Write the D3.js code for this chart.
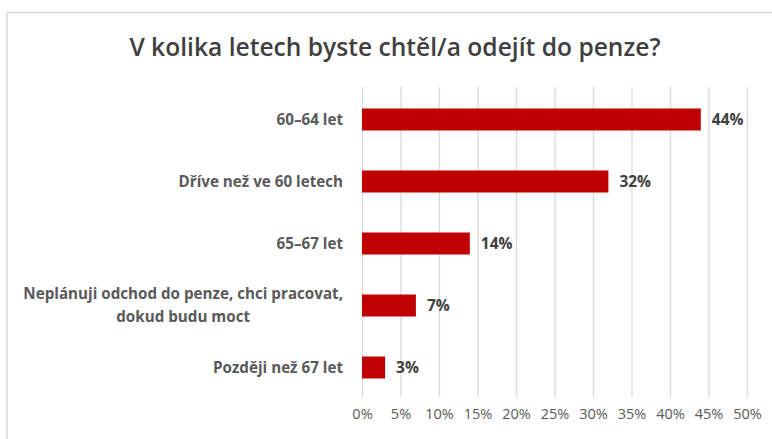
<!DOCTYPE html>
<html>
<head>
<meta charset="utf-8">
<script src="https://cdn.jsdelivr.net/npm/d3@7/dist/d3.min.js"></script>
<style>
  html, body { margin: 0; padding: 0; background: #fff; }
  svg { display: block; }
</style>
</head>
<body>
<div id="chart"></div>
<script>
const titleText = "V kolika letech byste chtěl/a odejít do penze?";
const categories = [
  ["60–64 let"],
  ["Dříve než ve 60 letech"],
  ["65–67 let"],
  ["Neplánuji odchod do penze, chci pracovat,", "dokud budu moct"],
  ["Později než 67 let"]
];
const values = [44, 32, 14, 7, 3];
const tickValues = [0, 5, 10, 15, 20, 25, 30, 35, 40, 45, 50];

const W = 772, H = 439;
const margin = { left: 362, right: 25, top: 88.5, bottom: 40.5 };
const font = "'Open Sans', sans-serif";

const svg = d3.select("#chart").append("svg")
  .attr("width", W).attr("height", H);

svg.append("rect").attr("width", W).attr("height", H).attr("fill", "#fff");

// outer frame (open at right and bottom)
svg.append("path")
  .attr("d", `M7,${H} L7,12.5 L${W},12.5`)
  .attr("fill", "none")
  .attr("stroke", "#d9d9d9")
  .attr("stroke-width", 1.5);

svg.append("text")
  .attr("x", 395).attr("y", 56)
  .attr("text-anchor", "middle")
  .attr("font-family", font)
  .attr("font-size", 24.6)
  .attr("font-weight", 600)
  .attr("fill", "#404040")
  .text(titleText);

const x = d3.scaleLinear().domain([0, 50]).range([margin.left, margin.left + 385]);
const idx = d3.range(categories.length);
const y = d3.scaleBand().domain(idx).range([margin.top, H - margin.bottom]).paddingInner(0.645).paddingOuter(0.3225);

// gridlines
const xAxis = d3.axisBottom(x).tickValues(tickValues).tickSize(-(H - margin.bottom - margin.top)).tickFormat(d => d + "%").tickPadding(12);
const gx = svg.append("g").attr("transform", `translate(0,${H - margin.bottom - 1.5})`).call(xAxis);
gx.select(".domain").remove();
gx.selectAll(".tick line").attr("stroke", "#d9d9d9").attr("stroke-width", 1.3);
gx.selectAll(".tick text").attr("font-family", font).attr("font-size", 14.5).attr("fill", "#595959");

// bars
svg.append("g").selectAll("rect").data(values).join("rect")
  .attr("x", x(0))
  .attr("y", (d, i) => y(i))
  .attr("width", d => x(d) - x(0))
  .attr("height", y.bandwidth())
  .attr("fill", "#c00000");

// value labels
svg.append("g").selectAll("text").data(values).join("text")
  .attr("x", d => x(d) + 11)
  .attr("y", (d, i) => y(i) + y.bandwidth() / 2)
  .attr("dy", "0.35em")
  .attr("font-family", font)
  .attr("font-weight", "bold")
  .attr("font-size", 15.5)
  .attr("fill", "#404040")
  .text(d => d + "%");

// category labels
const cat = svg.append("g").selectAll("text").data(categories).join("text")
  .attr("text-anchor", "end")
  .attr("font-family", font)
  .attr("font-weight", "bold")
  .attr("font-size", 15.2)
  .attr("fill", "#595959")
  .attr("transform", (d, i) => `translate(343,${y(i) + y.bandwidth() / 2})`);
cat.each(function(lines) {
  const t = d3.select(this);
  const n = lines.length;
  const spans = lines.map((l, k) => t.append("tspan")
      .attr("x", 0)
      .attr("y", (k - (n - 1) / 2) * 23)
      .attr("dy", "0.35em")
      .text(l));
  if (n > 1) {
    const w0 = spans[0].node().getComputedTextLength();
    spans.slice(1).forEach(s => s.attr("x", -w0 / 2).attr("text-anchor", "middle"));
  }
});
</script>
</body>
</html>
